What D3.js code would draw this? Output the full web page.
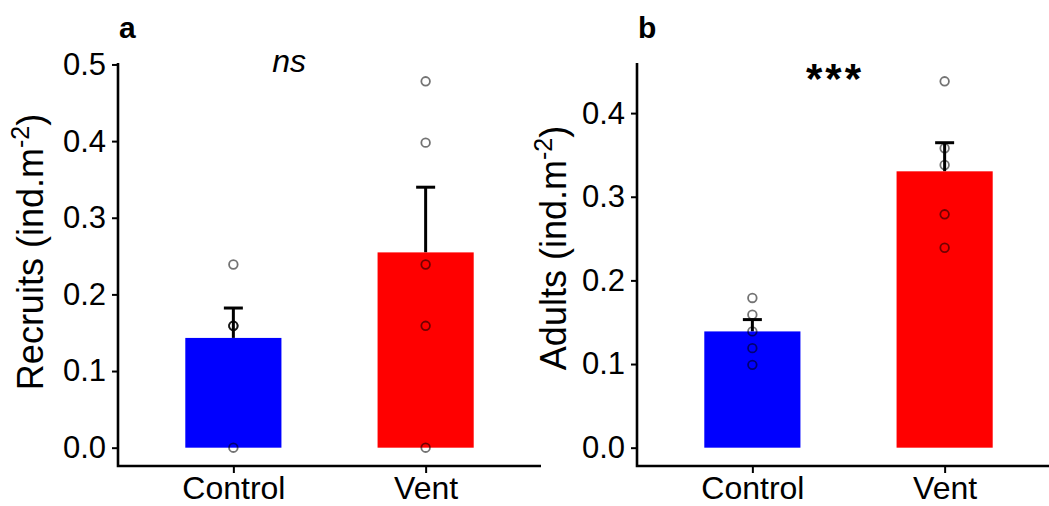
<!DOCTYPE html>
<html>
<head>
<meta charset="utf-8">
<script src="https://cdn.jsdelivr.net/npm/d3@7"></script>
<style>
  html, body { margin: 0; padding: 0; background: #fff; }
  svg { display: block; font-family: "Liberation Sans", Arial, sans-serif; }
</style>
</head>
<body>
<svg id="chart" width="1049" height="506"></svg>
<script>
// Site groups and per-replicate densities (individuals per m²)
const groups = ["Control", "Vent"];
const recruitsControl = [0.239, 0.159, 0.159, 0.159, 0.000];
const recruitsVent    = [0.478, 0.398, 0.239, 0.159, 0.000];
const adultsControl   = [0.179, 0.159, 0.139, 0.119, 0.099];
const adultsVent      = [0.438, 0.358, 0.338, 0.279, 0.239];
const yTicksRecruits  = [0.0, 0.1, 0.2, 0.3, 0.4, 0.5];
const yTicksAdults    = [0.0, 0.1, 0.2, 0.3, 0.4];
const groupColors     = ["#0000FF", "#FF0000"];

const svg = d3.select("#chart");
const plotTop = 63, plotBottom = 466;

function mean(v) { return d3.mean(v); }
function se(v) { return d3.deviation(v) / Math.sqrt(v.length); }

function drawPanel(opts) {
  const { tag, left, right, series, ticks, title, sig, sigItalic, sigBold, sigX, sigY, sigSize, sigSpacing, titleX, titleY } = opts;

  const x = d3.scalePoint().domain(groups).range([left, right]).padding(0.6);
  const step = x.step();
  const barW = step * 0.5;

  const allVals = series.flat();
  const yMax = d3.max(allVals), yMin = Math.min(0, d3.min(allVals));
  const pad = (yMax - yMin) * 0.05;
  const y = d3.scaleLinear().domain([yMin - pad, yMax + pad]).range([plotBottom, plotTop]);

  const g = svg.append("g");

  const stats = groups.map((k, i) => ({ key: k, m: mean(series[i]), s: se(series[i]), vals: series[i], color: groupColors[i] }));

  // error bars (mean to mean + SE)
  const eb = g.append("g").attr("stroke", "#000").attr("stroke-width", 3);
  stats.forEach(d => {
    eb.append("line").attr("x1", x(d.key)).attr("x2", x(d.key)).attr("y1", y(d.m)).attr("y2", y(d.m + d.s));
    eb.append("line").attr("x1", x(d.key) - 9.5).attr("x2", x(d.key) + 9.5).attr("y1", y(d.m + d.s)).attr("y2", y(d.m + d.s));
  });

  // bars = group means
  g.append("g").selectAll("rect").data(stats).join("rect")
    .attr("x", d => x(d.key) - barW / 2)
    .attr("width", barW)
    .attr("y", d => y(d.m))
    .attr("height", d => y(0) - y(d.m))
    .attr("fill", d => d.color);

  // replicate points
  const pts = stats.flatMap(d => d.vals.map(v => ({ key: d.key, v })));
  g.append("g").selectAll("circle").data(pts).join("circle")
    .attr("cx", d => x(d.key))
    .attr("cy", d => y(d.v))
    .attr("r", 4.3)
    .attr("fill", "none")
    .attr("stroke", "#000")
    .attr("stroke-opacity", 0.55)
    .attr("stroke-width", 1.8);

  // y axis
  const ya = g.append("g").attr("transform", `translate(${left},0)`)
    .call(d3.axisLeft(y).tickValues(ticks).tickFormat(d3.format(".1f")).tickSizeOuter(0).tickSize(6).tickPadding(6));
  ya.select(".domain").remove();
  ya.selectAll(".tick line").attr("stroke-width", 2);
  ya.selectAll(".tick text").attr("font-size", 31).attr("fill", "#000").attr("font-family", "Liberation Sans, Arial, sans-serif");

  // x axis
  const xa = g.append("g").attr("transform", `translate(0,${plotBottom})`)
    .call(d3.axisBottom(x).tickSizeOuter(0).tickSize(7).tickPadding(3));
  xa.select(".domain").remove();
  xa.selectAll(".tick line").attr("stroke-width", 2);
  xa.selectAll(".tick text").attr("font-size", 32).attr("fill", "#000").attr("font-family", "Liberation Sans, Arial, sans-serif");

  // axis lines
  g.append("path")
    .attr("d", `M${left},${plotTop}V${plotBottom}H${right}`)
    .attr("fill", "none").attr("stroke", "#000").attr("stroke-width", 2.6)
    .attr("stroke-linejoin", "miter");

  // y axis title with superscript
  const t = g.append("text")
    .attr("transform", `translate(${titleX},${titleY}) rotate(-90)`)
    .attr("text-anchor", "middle")
    .attr("font-size", 36)
    .attr("fill", "#000");
  t.append("tspan").text(title + " (ind.m");
  t.append("tspan").attr("font-size", 25).attr("dy", -14).text("-2");
  t.append("tspan").attr("dy", 14).text(")");

  // panel tag
  g.append("text").attr("x", left + 1).attr("y", 38)
    .attr("font-size", 30).attr("font-weight", "bold").attr("fill", "#000").text(tag);

  // significance label
  g.append("text")
    .attr("x", x(groups[0]) + sigX * step)
    .attr("y", sigY)
    .attr("text-anchor", "middle")
    .attr("font-size", sigSize)
    .attr("font-style", sigItalic ? "italic" : "normal")
    .attr("font-weight", sigBold ? "bold" : "normal")
    .attr("letter-spacing", sigSpacing)
    .attr("fill", "#000")
    .text(sig);
}

drawPanel({
  tag: "a", left: 118, right: 541,
  series: [recruitsControl, recruitsVent], ticks: yTicksRecruits,
  title: "Recruits", titleX: 43, titleY: 252,
  sig: "ns", sigItalic: true, sigBold: false, sigX: 0.29, sigY: 72, sigSize: 32, sigSpacing: 0
});

drawPanel({
  tag: "b", left: 637, right: 1060,
  series: [adultsControl, adultsVent], ticks: yTicksAdults,
  title: "Adults", titleX: 566, titleY: 248,
  sig: "***", sigItalic: false, sigBold: true, sigX: 0.43, sigY: 93, sigSize: 42, sigSpacing: 3
});
</script>
</body>
</html>
